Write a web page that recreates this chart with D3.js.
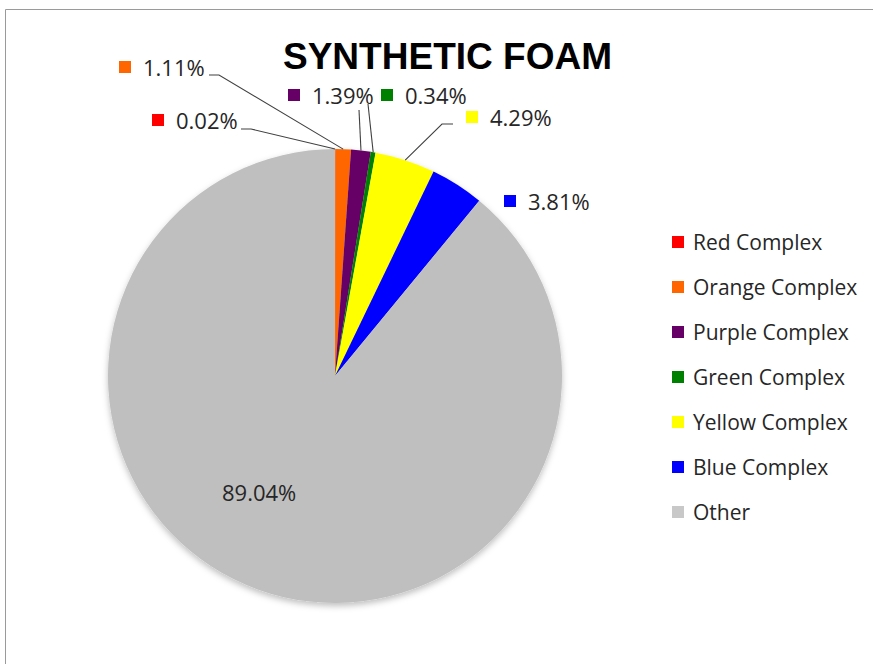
<!DOCTYPE html>
<html>
<head>
<meta charset="utf-8">
<script src="https://cdn.jsdelivr.net/npm/d3@7"></script>
<style>
  html, body { margin: 0; padding: 0; background: #fff; }
  svg { display: block; }
</style>
</head>
<body>
<svg id="chart" width="873" height="664"></svg>
<script>
// ---- data ----
const categories = ["Red Complex", "Orange Complex", "Purple Complex", "Green Complex", "Yellow Complex", "Blue Complex", "Other"];
const values = [0.02, 1.11, 1.39, 0.34, 4.29, 3.81, 89.04];
const labels = ["0.02%", "1.11%", "1.39%", "0.34%", "4.29%", "3.81%", "89.04%"];
const colors = ["#ff0000", "#ff6600", "#660066", "#008000", "#ffff00", "#0000ff", "#bfbfbf"];
const legendColors = ["#ff0000", "#ff6600", "#660066", "#008000", "#ffff00", "#0000ff", "#c8c8c8"];
const title = "SYNTHETIC FOAM";

// ---- layout (positions of data labels and leader starts) ----
const labelLayout = [
  { sq: [152, 120], leader: [[241, 129], [251, 129]] },
  { sq: [119, 67],  leader: [[209, 75], [219, 75]] },
  { sq: [288, 95],  leader: [[359, 110]] },
  { sq: [381, 95],  leader: [[368, 104]] },
  { sq: [466, 117], leader: [[453, 124], [442, 124]] },
  { sq: [504, 201], leader: null },
  { sq: null, text: [222, 501] }
];

const svg = d3.select("#chart");
const W = 873, H = 664;
const cx = 335, cy = 376, R = 227;

// frame
svg.append("path")
  .attr("d", `M5.5,${H} L5.5,9.5 L${W},9.5`)
  .attr("fill", "none").attr("stroke", "#9a9a9a").attr("stroke-width", 1);

// shadow filter
const defs = svg.append("defs");
const f = defs.append("filter").attr("id", "sh").attr("x", "-10%").attr("y", "-10%").attr("width", "120%").attr("height", "120%");
f.append("feDropShadow").attr("dx", 0).attr("dy", 3).attr("stdDeviation", 3).attr("flood-color", "#000").attr("flood-opacity", 0.25);

// title
svg.append("text")
  .attr("x", 283).attr("y", 69)
  .attr("font-family", "Liberation Sans, Arial, sans-serif")
  .attr("font-weight", "bold").attr("font-size", 36)
  .attr("textLength", 329).attr("lengthAdjust", "spacingAndGlyphs")
  .attr("fill", "#000").text(title);

// pie
const pie = d3.pie().sort(null).value(d => d)(values);
const arc = d3.arc().innerRadius(0).outerRadius(R);
const g = svg.append("g").attr("transform", `translate(${cx},${cy})`);
g.append("g").attr("filter", "url(#sh)")
  .selectAll("path").data(pie).join("path")
  .attr("d", arc)
  .attr("fill", (d, i) => colors[i]);

// edge point at mid angle
function edgePoint(d) {
  const a = (d.startAngle + d.endAngle) / 2;
  return [cx + R * Math.sin(a), cy - R * Math.cos(a)];
}

const labelFont = "Open Sans, Noto Sans, sans-serif";
const lg = svg.append("g");
pie.forEach((d, i) => {
  const L = labelLayout[i];
  if (L.leader) {
    const pts = L.leader.concat([edgePoint(d)]);
    lg.append("path")
      .attr("d", d3.line()(pts))
      .attr("fill", "none").attr("stroke", "#404040").attr("stroke-width", 1.1);
  }
  if (L.sq) {
    lg.append("rect")
      .attr("x", L.sq[0]).attr("y", L.sq[1] - 6)
      .attr("width", 12).attr("height", 12)
      .attr("fill", colors[i]);
    lg.append("text")
      .attr("x", L.sq[0] + 24).attr("y", L.sq[1] + 9)
      .attr("font-family", labelFont).attr("font-size", 22)
      .attr("fill", "#262626").text(labels[i]);
  } else {
    lg.append("text")
      .attr("x", L.text[0]).attr("y", L.text[1])
      .attr("font-family", labelFont).attr("font-size", 22)
      .attr("fill", "#262626").text(labels[i]);
  }
});

// legend
const leg = svg.append("g");
const legY = d3.scalePoint().domain(categories).range([242, 512]);
categories.forEach((c, i) => {
  const y = legY(c);
  leg.append("rect")
    .attr("x", 672).attr("y", y - 6).attr("width", 12).attr("height", 12)
    .attr("fill", legendColors[i]);
  leg.append("text")
    .attr("x", 693).attr("y", y + 7.5)
    .attr("font-family", labelFont).attr("font-size", 21)
    .attr("fill", "#262626").text(c);
});
</script>
</body>
</html>
